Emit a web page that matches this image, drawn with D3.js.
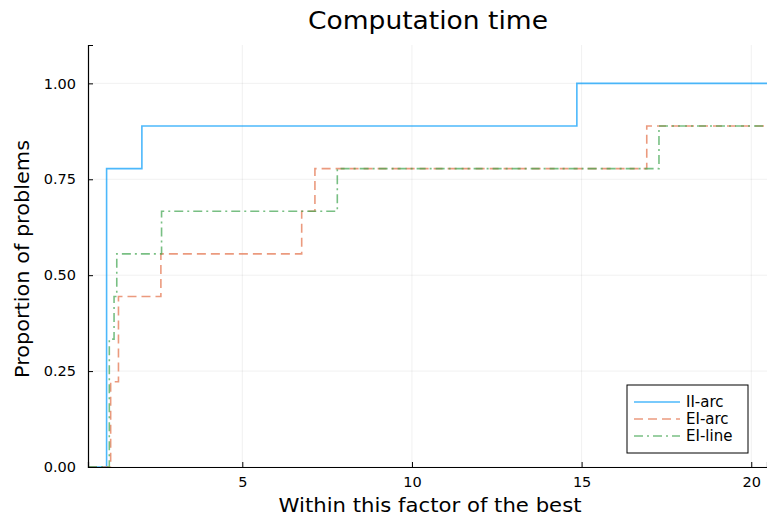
<!DOCTYPE html>
<html>
<head>
<meta charset="utf-8">
<script src="https://cdn.jsdelivr.net/npm/d3@7"></script>
<style>
    body { margin: 0; background: #fff; }
    svg text { font-family: "DejaVu Sans", sans-serif; fill: #000; }
</style>
</head>
<body>
<svg id="chart" width="767" height="520"></svg>
<script>
// step breakpoints (factor of the best) and proportion of problems reached there
const seriesNames = ['II-arc', 'EI-arc', 'EI-line'];
const iiArcX = [1.0, 2.04, 14.86];
const iiArcY = [7 / 9, 8 / 9, 1.0];
const eiArcX = [1.12, 1.35, 2.6, 6.75, 7.14, 16.92];
const eiArcY = [2 / 9, 4 / 9, 5 / 9, 6 / 9, 7 / 9, 8 / 9];
const eiLineX = [1.08, 1.22, 1.3, 2.62, 7.8, 17.28];
const eiLineY = [3 / 9, 4 / 9, 5 / 9, 6 / 9, 7 / 9, 8 / 9];
const xTicks = [5, 10, 15, 20];
const yTicks = [0, 0.25, 0.5, 0.75, 1.0];

const colors = ['#009afa', '#e36f47', '#3ea44e'];
const dashes = [null, '9,5', '9,4,2,4'];

const margin = { top: 45, right: 0, bottom: 53, left: 88 };
const W = 767, H = 520;
const width = W - margin.left - margin.right;
const height = H - margin.top - margin.bottom;

const x = d3.scaleLinear().domain([0.452, 20.464]).range([0, width]);
const y = d3.scaleLinear().domain([0, 1.1]).range([height, 0]);

const svg = d3.select('#chart');
const g = svg.append('g').attr('transform', `translate(${margin.left},${margin.top})`);

// grid
g.selectAll('.gx').data(xTicks).enter().append('line')
    .attr('x1', d => x(d)).attr('x2', d => x(d))
    .attr('y1', 0).attr('y2', height)
    .attr('stroke', '#000').attr('stroke-opacity', 0.1).attr('stroke-width', 0.6);
g.selectAll('.gy').data(yTicks).enter().append('line')
    .attr('x1', 0).attr('x2', width)
    .attr('y1', d => y(d)).attr('y2', d => y(d))
    .attr('stroke', '#000').attr('stroke-opacity', 0.1).attr('stroke-width', 0.6);

// series
const seriesX = [iiArcX, eiArcX, eiLineX];
const seriesY = [iiArcY, eiArcY, eiLineY];
const line = d3.line().curve(d3.curveStepAfter).x(d => x(d[0])).y(d => y(d[1]));

seriesNames.forEach((name, i) => {
    const pts = [[x.domain()[0], 0]];
    seriesX[i].forEach((v, j) => pts.push([v, seriesY[i][j]]));
    pts.push([x.domain()[1], seriesY[i][seriesY[i].length - 1]]);
    g.append('path')
        .attr('d', line(pts))
        .attr('fill', 'none')
        .attr('stroke', colors[i])
        .attr('stroke-opacity', 0.7)
        .attr('stroke-width', 1.6)
        .attr('stroke-dasharray', dashes[i]);
});

// axes
const xAxis = g.append('g').attr('transform', `translate(0,${height})`)
    .call(d3.axisBottom(x).tickValues(xTicks).tickSize(-5).tickPadding(10).tickFormat(d3.format('d')));
const yAxis = g.append('g')
    .call(d3.axisLeft(y).tickValues(yTicks).tickSize(-5).tickPadding(12).tickFormat(d3.format('.2f')));
[xAxis, yAxis].forEach(a => {
    a.select('.domain').attr('stroke', '#000').attr('stroke-width', 1.2);
    a.selectAll('.tick line').attr('stroke', '#000').attr('stroke-width', 1);
    a.selectAll('.tick text').attr('font-size', 14.5).attr('font-family', '"DejaVu Sans", sans-serif');
});

// labels
svg.append('text').attr('x', 428).attr('y', 29)
    .attr('text-anchor', 'middle').attr('font-size', 25)
    .attr('textLength', 240).attr('lengthAdjust', 'spacingAndGlyphs')
    .text('Computation time');
svg.append('text').attr('x', 430).attr('y', 512)
    .attr('text-anchor', 'middle').attr('font-size', 19)
    .attr('textLength', 303).attr('lengthAdjust', 'spacingAndGlyphs')
    .text('Within this factor of the best');
svg.append('text').attr('transform', 'translate(29,259) rotate(-90)')
    .attr('text-anchor', 'middle').attr('font-size', 19)
    .attr('textLength', 238).attr('lengthAdjust', 'spacingAndGlyphs')
    .text('Proportion of problems');

// legend
const lg = svg.append('g').attr('transform', 'translate(627,385)');
lg.append('rect').attr('width', 121).attr('height', 68)
    .attr('fill', '#fff').attr('stroke', '#000').attr('stroke-width', 1);
seriesNames.forEach((name, i) => {
    const ly = 17 + i * 17;
    lg.append('line').attr('x1', 7).attr('x2', 53).attr('y1', ly).attr('y2', ly)
        .attr('stroke', colors[i]).attr('stroke-opacity', 0.7).attr('stroke-width', 1.6)
        .attr('stroke-dasharray', dashes[i]);
    lg.append('text').attr('x', 59).attr('y', ly + 5).attr('font-size', 15).text(name);
});
</script>
</body>
</html>
